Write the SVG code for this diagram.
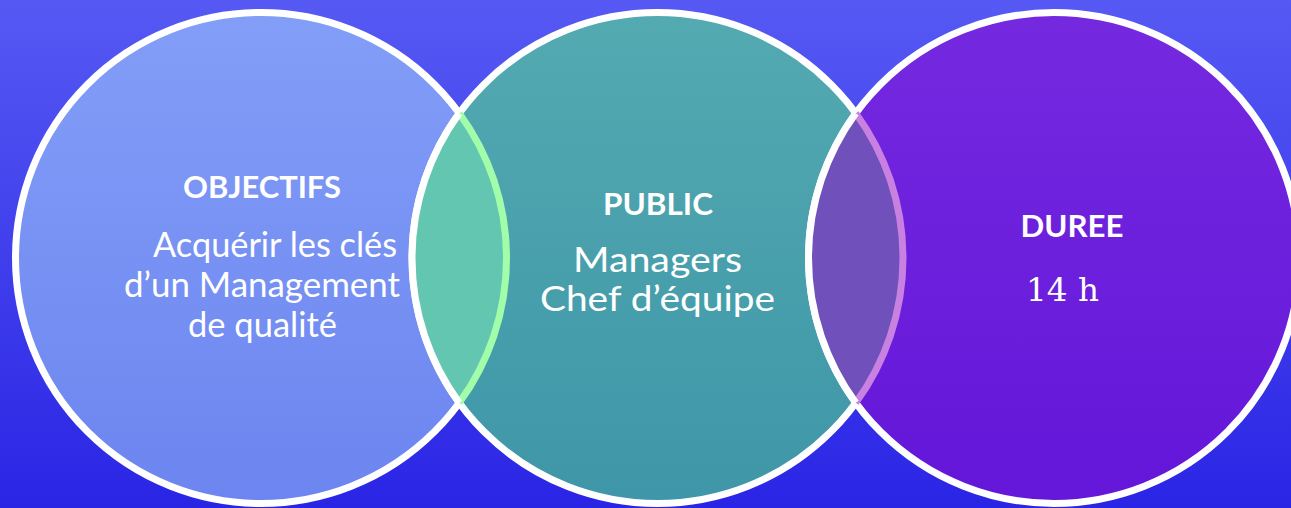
<svg xmlns="http://www.w3.org/2000/svg" width="1291" height="508" viewBox="0 0 1291 508">
  <defs>
    <linearGradient id="bg" x1="0" y1="0" x2="0" y2="1">
      <stop offset="0" stop-color="#5659F3"/>
      <stop offset="1" stop-color="#2A25E5"/>
    </linearGradient>
    <linearGradient id="gL" x1="0" y1="0" x2="0" y2="1">
      <stop offset="0" stop-color="#829EF7"/>
      <stop offset="1" stop-color="#6C85F0"/>
    </linearGradient>
    <linearGradient id="gM" x1="0" y1="0" x2="0" y2="1">
      <stop offset="0" stop-color="#54AAB1"/>
      <stop offset="1" stop-color="#3E96A8"/>
    </linearGradient>
    <linearGradient id="gR" x1="0" y1="0" x2="0" y2="1">
      <stop offset="0" stop-color="#7529DF"/>
      <stop offset="1" stop-color="#6416D9"/>
    </linearGradient>
  </defs>
  <style>
    .ring { stroke: #FFFFFF; stroke-width: 7; }
    .t { fill: #FFFFFF; font-family: Lato, "Open Sans", "Liberation Sans", sans-serif; text-anchor: middle; }
    .b { font-weight: bold; font-size: 30px; }
    .r { font-size: 35px; }
    .m { font-size: 34px; }
    .s { fill: #FFFFFF; font-family: "DejaVu Serif", "Liberation Serif", serif; font-size: 32px; text-anchor: middle; }
    .arc { fill: none; stroke-width: 7; }
  </style>
  <rect x="0" y="0" width="1291" height="508" fill="url(#bg)"/>

  <g id="node-objectifs">
    <circle class="ring" cx="261" cy="258" r="245.5" fill="url(#gL)"/>
    <text class="t b" x="262" y="198" textLength="158" lengthAdjust="spacingAndGlyphs">OBJECTIFS</text>
    <text class="t r" x="275" y="257" textLength="244" lengthAdjust="spacingAndGlyphs">Acquérir les clés</text>
    <text class="t r" x="262" y="297" textLength="276" lengthAdjust="spacingAndGlyphs">d’un Management</text>
    <text class="t r" x="262.5" y="337" textLength="149" lengthAdjust="spacingAndGlyphs">de qualité</text>
  </g>

  <g id="node-public">
    <circle class="ring" cx="657.5" cy="258" r="245.5" fill="url(#gM)"/>
    <text class="t b" x="658" y="215" textLength="110" lengthAdjust="spacingAndGlyphs">PUBLIC</text>
    <text class="t m" x="657.5" y="272" textLength="169" lengthAdjust="spacingAndGlyphs">Managers</text>
    <text class="t m" x="657.5" y="311" textLength="235" lengthAdjust="spacingAndGlyphs">Chef d’équipe</text>
  </g>

  <g id="node-duree">
    <circle class="ring" cx="1054" cy="258" r="245.5" fill="url(#gR)"/>
    <text class="t b" x="1072" y="237" textLength="103" lengthAdjust="spacingAndGlyphs">DUREE</text>
    <text class="s" x="1062.5" y="301" textLength="73" lengthAdjust="spacingAndGlyphs">14 h</text>
  </g>

  <g id="overlaps">
    <path d="M459.25 113.2 A245.5 245.5 0 0 1 459.25 402.8 A245.5 245.5 0 0 1 459.25 113.2 Z" fill="#63C6B0"/>
    <path class="arc" d="M459.25 113.2 A245.5 245.5 0 0 1 459.25 402.8" stroke="#A2FDAA"/>
    <path class="arc" d="M459.25 402.8 A245.5 245.5 0 0 1 459.25 113.2" stroke="#FFFFFF"/>
    <path d="M855.75 113.2 A245.5 245.5 0 0 1 855.75 402.8 A245.5 245.5 0 0 1 855.75 113.2 Z" fill="#7050BA"/>
    <path class="arc" d="M855.75 113.2 A245.5 245.5 0 0 1 855.75 402.8" stroke="#C981E1"/>
    <path class="arc" d="M855.75 402.8 A245.5 245.5 0 0 1 855.75 113.2" stroke="#FFFFFF"/>
  </g>
</svg>
